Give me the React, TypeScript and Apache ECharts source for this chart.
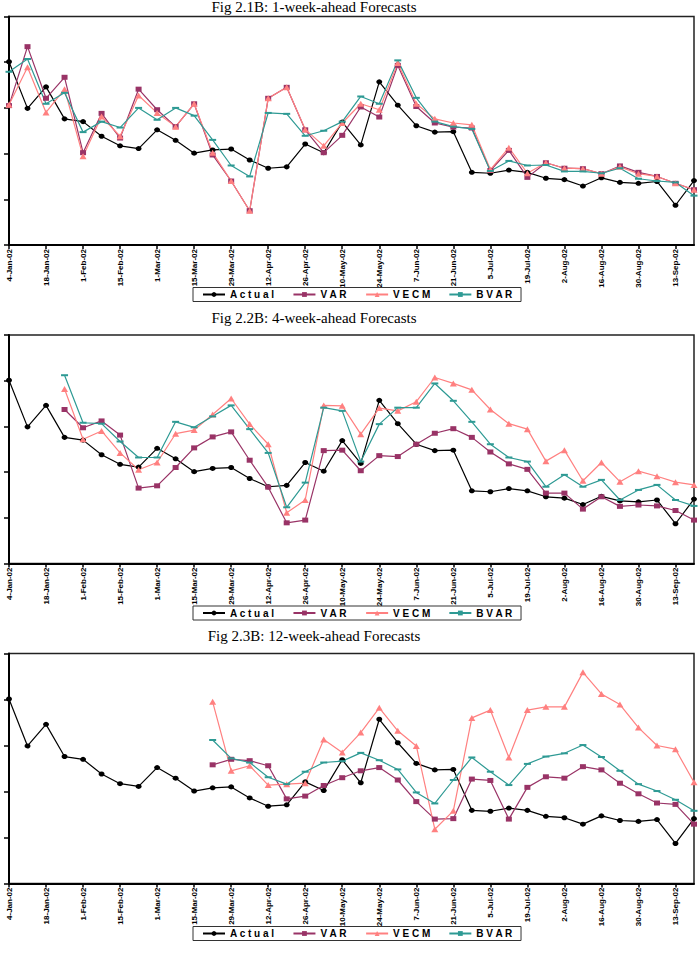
import React, { useEffect, useRef } from "react";
import * as echarts from "echarts";

const dates = [
  "4-Jan-02", "11-Jan-02", "18-Jan-02", "25-Jan-02", "1-Feb-02", "8-Feb-02", "15-Feb-02", "22-Feb-02",
  "1-Mar-02", "8-Mar-02", "15-Mar-02", "22-Mar-02", "29-Mar-02", "5-Apr-02", "12-Apr-02", "19-Apr-02",
  "26-Apr-02", "3-May-02", "10-May-02", "17-May-02", "24-May-02", "31-May-02", "7-Jun-02", "14-Jun-02",
  "21-Jun-02", "28-Jun-02", "5-Jul-02", "12-Jul-02", "19-Jul-02", "26-Jul-02", "2-Aug-02", "9-Aug-02",
  "16-Aug-02", "23-Aug-02", "30-Aug-02", "6-Sep-02", "13-Sep-02", "20-Sep-02",
];

const titles = [
  "Fig 2.1B: 1-week-ahead Forecasts",
  "Fig 2.2B: 4-week-ahead Forecasts",
  "Fig 2.3B: 12-week-ahead Forecasts",
];

const seriesNames = ["Actual", "VAR", "VECM", "BVAR"];

const actual = [4.01, 2.99, 3.46, 2.76, 2.70, 2.38, 2.17, 2.11, 2.52, 2.29, 2.01, 2.08, 2.10, 1.86, 1.68, 1.71, 2.21, 2.02, 2.69, 2.19, 3.57, 3.06, 2.61, 2.47, 2.48, 1.59, 1.57, 1.64, 1.59, 1.46, 1.43, 1.29, 1.47, 1.37, 1.35, 1.39, 0.87, 1.41];

// 1-week-ahead
const var1 = [3.05, 4.34, 3.21, 3.67, 2.02, 2.88, 2.34, 3.41, 2.96, 2.59, 3.09, 1.97, 1.40, 0.75, 3.21, 3.45, 2.52, 2.02, 2.40, 3.02, 2.80, 3.93, 3.03, 2.67, 2.58, 2.56, 1.63, 2.07, 1.48, 1.80, 1.68, 1.67, 1.56, 1.73, 1.59, 1.50, 1.35, 1.21];
const vecm1 = [3.07, 3.89, 2.90, 3.41, 1.94, 2.81, 2.38, 3.27, 2.89, 2.59, 3.09, 2.02, 1.40, 0.75, 3.21, 3.45, 2.53, 2.17, 2.67, 3.09, 2.96, 3.98, 3.09, 2.76, 2.67, 2.63, 1.65, 2.13, 1.57, 1.80, 1.68, 1.67, 1.56, 1.71, 1.56, 1.50, 1.35, 1.21];
const bvar1 = [3.79, 4.07, 3.09, 3.33, 2.47, 2.70, 2.57, 3.00, 2.74, 3.00, 2.83, 2.30, 1.74, 1.50, 2.89, 2.87, 2.39, 2.50, 2.70, 3.25, 3.09, 4.04, 3.22, 2.70, 2.59, 2.54, 1.62, 1.84, 1.74, 1.75, 1.61, 1.61, 1.57, 1.68, 1.45, 1.40, 1.37, 1.08];

// 4-week-ahead
const var2 = [null, null, null, 3.37, 2.97, 3.12, 2.81, 1.65, 1.70, 2.10, 2.53, 2.77, 2.88, 2.26, 1.67, 0.89, 0.95, 2.47, 2.48, 2.03, 2.36, 2.34, 2.61, 2.85, 2.95, 2.76, 2.44, 2.18, 2.06, 1.54, 1.54, 1.19, 1.46, 1.25, 1.28, 1.26, 1.16, 0.95];
const vecm2 = [null, null, null, 3.82, 2.72, 2.90, 2.42, 2.05, 2.21, 2.84, 2.92, 3.26, 3.61, 3.05, 2.61, 1.11, 1.39, 3.46, 3.45, 2.83, 3.40, 3.34, 3.54, 4.07, 3.94, 3.80, 3.37, 3.06, 2.94, 2.24, 2.48, 1.81, 2.21, 1.79, 2.02, 1.91, 1.78, 1.72];
const bvar2 = [null, null, null, 4.12, 3.08, 3.06, 2.67, 2.32, 2.32, 3.10, 2.98, 3.22, 3.46, 2.94, 2.42, 1.23, 1.77, 3.41, 3.34, 2.23, 3.05, 3.41, 3.41, 3.94, 3.56, 3.10, 2.61, 2.32, 2.23, 1.68, 1.94, 1.68, 1.83, 1.39, 1.61, 1.72, 1.39, 1.26];

// 12-week-ahead
const var3 = [null, null, null, null, null, null, null, null, null, null, null, 2.58, 2.70, 2.67, 2.56, 1.84, 1.90, 2.13, 2.30, 2.45, 2.52, 2.25, 1.78, 1.40, 1.41, 2.27, 2.24, 1.40, 2.09, 2.32, 2.29, 2.54, 2.47, 2.18, 1.95, 1.75, 1.72, 1.29];
const vecm3 = [null, null, null, null, null, null, null, null, null, null, null, 3.95, 2.45, 2.56, 2.14, 2.16, 2.18, 3.13, 2.85, 3.28, 3.82, 3.32, 2.99, 1.18, 1.58, 3.60, 3.77, 2.74, 3.77, 3.84, 3.84, 4.59, 4.12, 3.89, 3.39, 3.00, 2.92, 2.20];
const bvar3 = [null, null, null, null, null, null, null, null, null, null, null, 3.12, 2.72, 2.63, 2.31, 2.16, 2.43, 2.63, 2.66, 2.84, 2.68, 2.48, 1.98, 1.74, 2.25, 2.74, 2.43, 2.14, 2.60, 2.76, 2.83, 3.01, 2.75, 2.45, 2.16, 2.01, 1.82, 1.58];

const panelData = [
  [actual, var1, vecm1, bvar1],
  [actual, var2, vecm2, bvar2],
  [actual, var3, vecm3, bvar3],
];

const colors = ["#000000", "#993366", "#FF8080", "#2E9A94"];
const symbols = ["circle", "rect", "triangle", "rect"];
const symbolSizes: any[] = [[6, 5], [6, 5], [7, 6], [7, 2]];

const gridTops = [16.5, 335, 653.5];
const gridHeights = [228.5, 228.5, 230];
const legendTops = [287.5, 606, 926.5];
const titleYs = [7, 318, 636];

export default function App() {
  const ref = useRef<HTMLDivElement>(null);
  useEffect(() => {
    document.body.style.margin = "0";
    if (!ref.current) return;
    const chart = echarts.init(ref.current, undefined, { renderer: "svg" });

    const grid = gridTops.map((t, i) => ({
      left: 9,
      right: 6,
      top: t,
      height: gridHeights[i],
      show: true,
      borderColor: "#222",
      borderWidth: 1.5,
      backgroundColor: "transparent",
    }));

    const xAxis = gridTops.map((_, i) => ({
      type: "category",
      gridIndex: i,
      data: dates,
      boundaryGap: false,
      axisLine: { show: true, lineStyle: { color: "#000", width: 2 } },
      axisTick: { show: true, interval: 1, length: 4, lineStyle: { color: "#000", width: 1.5 } },
      axisLabel: {
        show: true,
        interval: 1,
        rotate: 90,
        margin: 4,
        fontSize: 8,
        fontWeight: "bold",
        fontFamily: "Liberation Sans, Arial, sans-serif",
        color: "#000",
      },
      splitLine: { show: false },
    }));

    const yAxis = gridTops.map((_, i) => ({
      type: "value",
      gridIndex: i,
      min: 0,
      max: 5,
      interval: 1,
      axisLine: { show: true, lineStyle: { color: "#000", width: 2 } },
      axisTick: { show: true, length: 5, lineStyle: { color: "#000", width: 1.5 } },
      axisLabel: { show: false },
      splitLine: { show: false },
    }));

    const series: any[] = [];
    panelData.forEach((arrs, p) => {
      arrs.forEach((d, k) => {
        series.push({
          type: "line",
          name: seriesNames[k],
          xAxisIndex: p,
          yAxisIndex: p,
          data: d,
          symbol: symbols[k],
          symbolSize: symbolSizes[k],
          showAllSymbol: true,
          color: colors[k],
          itemStyle: { color: colors[k] },
          lineStyle: { color: colors[k], width: 1.2 },
          connectNulls: false,
        });
      });
    });

    const legend = legendTops.map((t) => ({
      show: true,
      left: 193,
      top: t,
      orient: "horizontal",
      data: seriesNames,
      itemWidth: 22,
      itemHeight: 6,
      itemGap: 18,
      padding: [2, 8, 2, 9],
      borderColor: "#333",
      borderWidth: 1,
      backgroundColor: "#fff",
      selectedMode: false,
      formatter: (n: string) => n.split("").join(" "),
      textStyle: {
        fontSize: 10,
        fontWeight: "bold",
        fontFamily: "Liberation Sans, Arial, sans-serif",
        color: "#000",
        padding: [0, 0, 0, 0],
      },
    }));

    const graphic = titles.map((t, i) => ({
      type: "text",
      x: 314,
      y: titleYs[i],
      style: {
        text: t,
        font: "15px 'Liberation Serif', 'Times New Roman', serif",
        fill: "#000",
        textAlign: "center",
        textVerticalAlign: "middle",
        align: "center",
        verticalAlign: "middle",
      },
    }));

    chart.setOption({
      animation: false,
      backgroundColor: "#fff",
      grid,
      xAxis,
      yAxis,
      legend,
      series,
      graphic,
    } as any);

    return () => chart.dispose();
  }, []);
  return <div ref={ref} style={{ width: 700, height: 975 }} />;
}
